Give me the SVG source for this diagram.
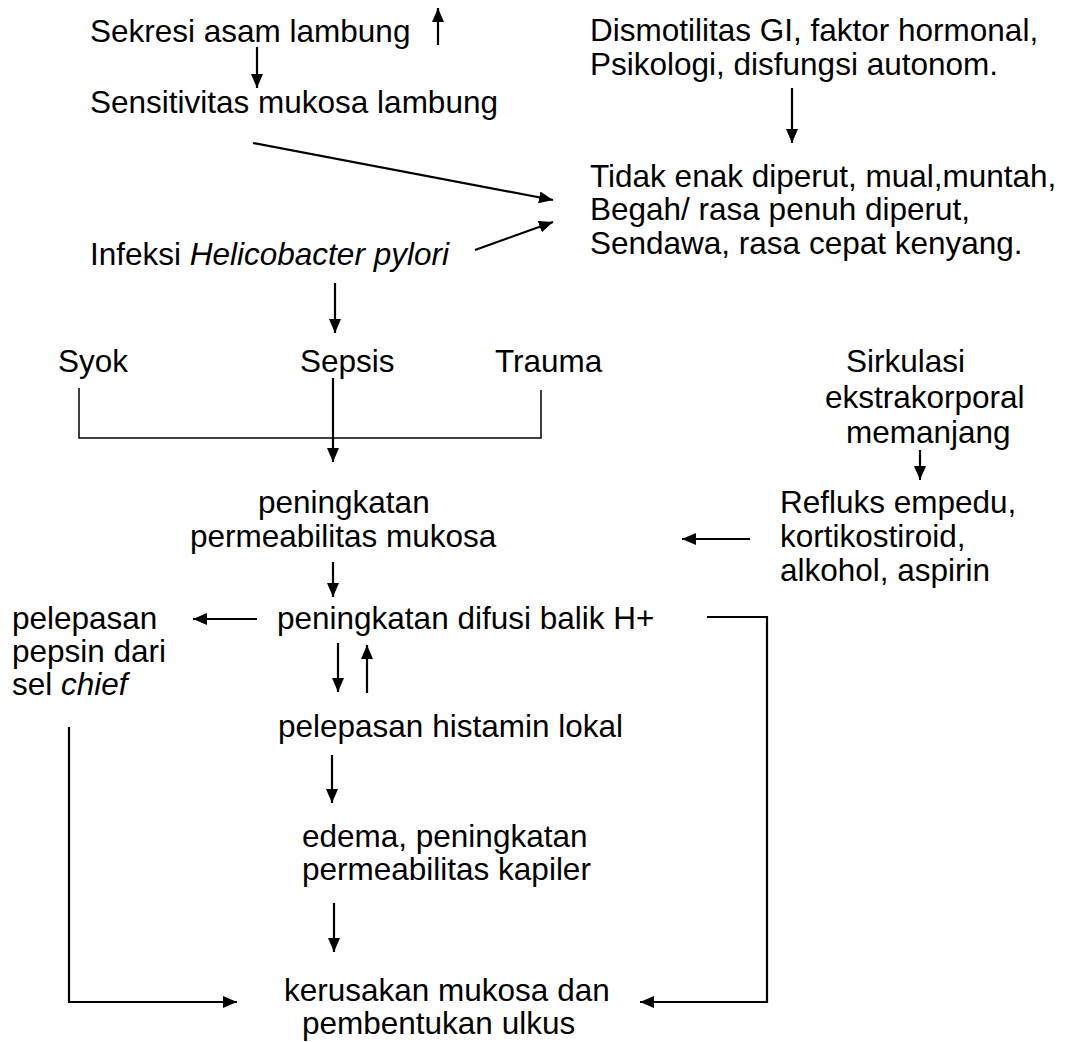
<svg xmlns="http://www.w3.org/2000/svg" width="1069" height="1042" viewBox="0 0 1069 1042">
<style>
text{font-family:"Liberation Sans",Arial,sans-serif;font-size:31.5px;fill:#000}
.i{font-style:italic}
.c line,.c polyline{stroke:#000;stroke-width:2.2;fill:none}
.c .a{marker-end:url(#ah)}
.c .thin{stroke-width:1.5}
</style>
<defs>
<marker id="ah" markerUnits="userSpaceOnUse" markerWidth="15" markerHeight="12" refX="14" refY="6" orient="auto">
<path d="M0,0 L14,6 L0,12 z" fill="#000"/>
</marker>
</defs>
<rect width="1069" height="1042" fill="#fff"/>
<g id="n-sekresi"><text x="90" y="42">Sekresi asam lambung</text></g>
<g id="n-sensitivitas"><text x="90" y="113">Sensitivitas mukosa lambung</text></g>
<g id="n-infeksi"><text x="90" y="265">Infeksi <tspan class="i">Helicobacter pylori</tspan></text></g>
<g id="n-dismotilitas"><text x="590" y="41">Dismotilitas GI, faktor hormonal,</text><text x="590" y="75">Psikologi, disfungsi autonom.</text></g>
<g id="n-gejala"><text x="590" y="187">Tidak enak diperut, mual,muntah,</text><text x="590" y="220">Begah/ rasa penuh diperut,</text><text x="590" y="254">Sendawa, rasa cepat kenyang.</text></g>
<g id="n-syok"><text x="58" y="372">Syok</text></g>
<g id="n-sepsis"><text x="300" y="372">Sepsis</text></g>
<g id="n-trauma"><text x="495" y="372">Trauma</text></g>
<g id="n-sirkulasi"><text x="846" y="372">Sirkulasi</text><text x="825" y="408">ekstrakorporal</text><text x="846" y="443">memanjang</text></g>
<g id="n-permeabilitas"><text x="258" y="513">peningkatan</text><text x="190" y="547">permeabilitas mukosa</text></g>
<g id="n-refluks"><text x="780" y="513">Refluks empedu,</text><text x="780" y="547">kortikostiroid,</text><text x="780" y="581">alkohol, aspirin</text></g>
<g id="n-pepsin"><text x="12" y="629">pelepasan</text><text x="12" y="662">pepsin dari</text><text x="12" y="695">sel <tspan class="i">chief</tspan></text></g>
<g id="n-difusi"><text x="277" y="629">peningkatan difusi balik H+</text></g>
<g id="n-histamin"><text x="278" y="737">pelepasan histamin lokal</text></g>
<g id="n-edema"><text x="302" y="847">edema, peningkatan</text><text x="302" y="880">permeabilitas kapiler</text></g>
<g id="n-ulkus"><text x="284" y="1001">kerusakan mukosa dan</text><text x="302" y="1034">pembentukan ulkus</text></g>
<g id="connectors" class="c">
<line class="a" x1="438" y1="45" x2="438" y2="8"/>
<line class="a" x1="257" y1="47" x2="257" y2="88"/>
<line class="a" x1="253" y1="143" x2="553" y2="200"/>
<line class="a" x1="475" y1="250" x2="553" y2="222"/>
<line class="a" x1="792" y1="88" x2="792" y2="143"/>
<line class="a" x1="335" y1="283" x2="335" y2="333"/>
<polyline class="thin" points="79,388 79,438 541,438 541,390"/>
<line class="a" x1="333" y1="378" x2="333" y2="462"/>
<line class="a" x1="920" y1="450" x2="920" y2="480"/>
<line class="a" x1="750" y1="539" x2="682" y2="539"/>
<line class="a" x1="333" y1="562" x2="333" y2="597"/>
<line class="a" x1="257" y1="619" x2="193" y2="619"/>
<line class="a" x1="338" y1="643" x2="338" y2="692"/>
<line class="a" x1="367" y1="693" x2="367" y2="645"/>
<line class="a" x1="332" y1="755" x2="332" y2="803"/>
<line class="a" x1="334" y1="903" x2="334" y2="952"/>
<polyline class="a" points="69,727 69,1002 237,1002"/>
<polyline class="a" points="707,617 767,617 767,1002 640,1002"/>
</g>
</svg>
